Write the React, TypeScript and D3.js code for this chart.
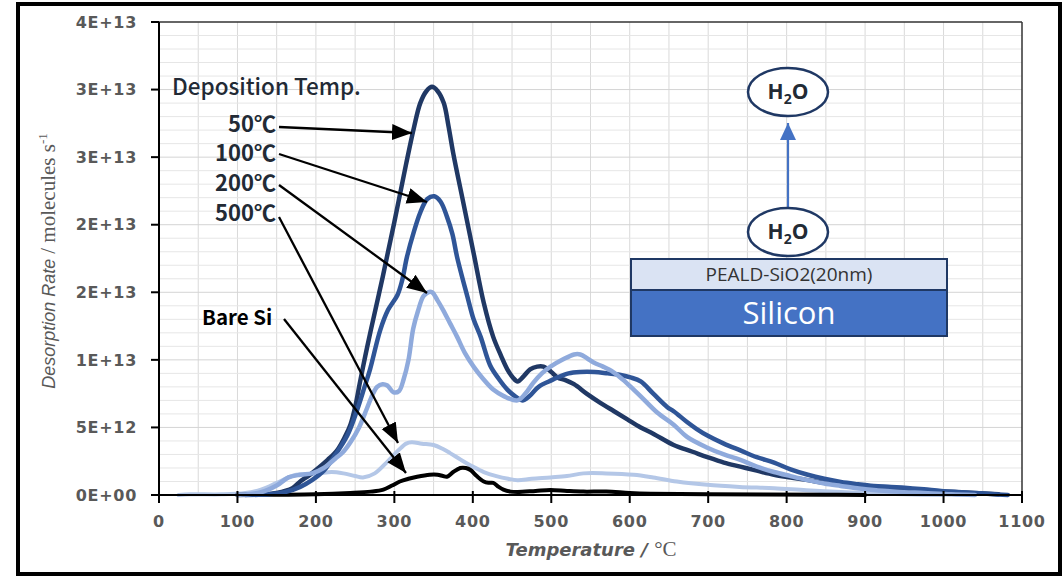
import * as d3 from "d3";

// desorption rate values are in units of 1E12 molecules/s
const series50: [number, number][] = [[100,0],[130,0.05],[150,0.15],[170,0.5],[180,1.0],[190,1.4],[200,1.85],[215,2.6],[227,3.3],[237,4.3],[244,5.2],[250,6.5],[256,8.3],[263,10.3],[270,12.2],[285,16.1],[300,20.2],[315,24.5],[325,27.2],[333,29],[341,29.9],[348,30.2],[355,29.9],[363,29],[369,27.3],[375,25.3],[388,21.6],[401,17.9],[414,14.2],[426,11.7],[436,10.3],[444,9.3],[451,8.7],[457,8.4],[465,8.8],[473,9.3],[482,9.5],[490,9.5],[500,9.1],[508,8.7],[518,8.5],[529,8.2],[545,7.5],[563,6.8],[580,6.2],[597,5.6],[614,5.0],[631,4.5],[656,3.7],[680,3.2],[699,2.8],[720,2.4],[741,2.1],[762,1.8],[784,1.5],[805,1.3],[827,1.1],[848,0.9],[869,0.74],[910,0.55],[954,0.37],[1000,0.25],[1039,0.15],[1070,0.05]];
const series100: [number, number][] = [[110,0],[140,0.05],[160,0.2],[180,0.6],[195,1.1],[210,1.8],[225,3.0],[240,4.4],[252,6.2],[262,8.0],[269,9.3],[282,12.2],[292,13.7],[304,14.8],[310,15.9],[316,17.6],[325,19.5],[333,20.9],[342,21.9],[351,22.1],[359,21.7],[367,20.6],[374,19.3],[380,17.6],[393,14.7],[401,13.0],[410,11.7],[422,9.6],[433,8.6],[444,7.8],[454,7.3],[463,7.0],[472,7.3],[480,7.8],[486,8.1],[497,8.4],[508,8.7],[522,9.0],[537,9.1],[555,9.1],[572,9.0],[587,8.9],[601,8.7],[614,8.4],[630,7.5],[648,6.5],[656,6.2],[673,5.4],[685,4.9],[699,4.4],[720,3.8],[741,3.3],[762,2.8],[784,2.4],[805,1.9],[827,1.5],[848,1.2],[869,0.96],[890,0.8],[911,0.67],[933,0.6],[954,0.52],[975,0.42],[997,0.3],[1018,0.22],[1039,0.15],[1060,0.07],[1082,0]];
const series200: [number, number][] = [[100,0],[130,0.2],[150,0.7],[165,1.3],[180,1.5],[195,1.6],[210,2.0],[225,2.7],[235,3.2],[244,3.9],[255,5.0],[265,6.4],[272,7.4],[278,8.0],[285,8.2],[291,8.1],[299,7.6],[306,7.7],[312,8.6],[318,10.0],[324,12.3],[330,13.6],[337,14.7],[343,15.0],[348,15.0],[355,14.4],[362,13.7],[371,12.7],[380,11.7],[390,10.5],[401,9.5],[413,8.6],[426,7.8],[440,7.3],[457,7.0],[467,7.5],[477,8.3],[488,9.0],[499,9.5],[514,10.0],[529,10.4],[537,10.4],[546,10.1],[554,9.8],[566,9.5],[579,9.1],[592,8.5],[605,7.8],[614,7.3],[635,6.1],[656,5.2],[673,4.3],[699,3.5],[720,3.0],[741,2.6],[762,2.1],[784,1.7],[805,1.4],[827,1.1],[848,0.85],[869,0.67],[890,0.5],[911,0.37],[940,0.25],[975,0.15],[1010,0.05],[1040,0]];
const series500: [number, number][] = [[25,0],[40,0.05],[80,0.05],[110,0.15],[130,0.4],[150,0.9],[165,1.3],[175,1.5],[190,1.5],[205,1.6],[220,1.7],[235,1.6],[250,1.4],[260,1.3],[275,1.6],[290,2.4],[305,3.3],[315,3.8],[322,3.9],[335,3.8],[350,3.7],[362,3.4],[371,3.1],[385,2.6],[400,2.1],[414,1.7],[430,1.4],[445,1.2],[457,1.1],[475,1.2],[499,1.3],[520,1.4],[541,1.6],[570,1.6],[605,1.5],[630,1.3],[660,1.0],[699,0.75],[740,0.6],[784,0.5],[825,0.35],[869,0.22],[911,0.12],[950,0.05],[1000,0]];
const seriesBare: [number, number][] = [[100,0],[150,0.02],[200,0.05],[244,0.15],[270,0.25],[286,0.4],[297,0.7],[307,1.0],[318,1.2],[329,1.35],[345,1.5],[355,1.5],[362,1.4],[367,1.35],[375,1.7],[384,2.0],[391,2.0],[397,1.85],[405,1.4],[414,1.0],[420,0.9],[426,0.9],[433,0.6],[439,0.4],[448,0.25],[457,0.22],[480,0.3],[499,0.37],[520,0.3],[541,0.25],[570,0.25],[600,0.15],[627,0.1],[700,0.05],[850,0.02],[900,0]];

const xTicks = d3.range(0, 1101, 100);
const yTickValues = [0, 5, 10, 15, 20, 25, 30, 35];
const yTickLabels = ["0E+00", "5E+12", "1E+13", "2E+13", "2E+13", "3E+13", "3E+13", "4E+13"];
const depLabels = ["50℃", "100℃", "200℃", "500℃"];

const W = 1064, H = 577;
const left = 159, right = 1022, top = 22, bottom = 495;

export default function App() {
  const x = d3.scaleLinear().domain([0, 1100]).range([left, right]);
  const y = d3.scaleLinear().domain([0, 35]).range([bottom, top]);
  const line = d3.line<[number, number]>().x(d => x(d[0])).y(d => y(d[1])).curve(d3.curveCatmullRom.alpha(0.5));

  const curves = [
    { data: series500, color: "#b4c7e7", w: 4 },
    { data: seriesBare, color: "#000000", w: 4 },
    { data: series50, color: "#203864", w: 4.5 },
    { data: series100, color: "#2f5597", w: 4.5 },
    { data: series200, color: "#8faadc", w: 4.5 },
  ];

  const tickFont = { fontFamily: "DejaVu Sans", fontWeight: 700, fontSize: 16, fill: "#595959", letterSpacing: 0.7 };
  const jp = "'Noto Sans CJK JP', 'Noto Sans', sans-serif";

  // label anchors and arrow tips for the annotation arrows
  const arrows = [
    { from: [279, 127], to: [412, 133] },
    { from: [279, 154], to: [427, 202] },
    { from: [279, 185], to: [427, 293] },
    { from: [279, 217], to: [398, 443] },
    { from: [284, 319], to: [406, 473] },
  ];

  return (
    <svg width={W} height={H} style={{ position: "absolute", left: 0, top: 0, background: "#fff" }}>
      <defs>
        <marker id="ah" markerUnits="userSpaceOnUse" markerWidth="22" markerHeight="18" refX="20" refY="8" orient="auto">
          <path d="M0,0 L20,8 L0,16 Z" fill="#000" />
        </marker>
        <marker id="ahb" markerUnits="userSpaceOnUse" markerWidth="18" markerHeight="18" refX="17" refY="8" orient="auto">
          <path d="M0,0 L17,8 L0,16 Z" fill="#4472c4" />
        </marker>
      </defs>
      <rect x={18} y={4} width={1042} height={570} fill="#fff" stroke="#000" strokeWidth={4} />

      {/* grid */}
      {d3.range(50, 1100, 50).map(t => (
        <line key={"gx" + t} x1={x(t)} x2={x(t)} y1={top} y2={bottom} stroke="#d9d9d9" strokeWidth={1} />
      ))}
      {d3.range(1, 35, 1).map(v => (
        <line key={"gy" + v} x1={left} x2={right} y1={y(v)} y2={y(v)} stroke={v % 5 === 0 ? "#d4d4d4" : "#e6e6e6"} strokeWidth={1} />
      ))}
      <line x1={left} x2={right} y1={top} y2={top} stroke="#333" strokeWidth={1.5} />
      <line x1={right} x2={right} y1={top} y2={bottom} stroke="#333" strokeWidth={1.5} />

      {/* curves */}
      {curves.map((c, i) => (
        <path key={i} d={line(c.data) || ""} fill="none" stroke={c.color} strokeWidth={c.w} strokeLinejoin="round" strokeLinecap="round" />
      ))}

      {/* axes */}
      <line x1={left} x2={left} y1={top} y2={bottom + 1} stroke="#000" strokeWidth={2} />
      <line x1={left - 1} x2={right} y1={bottom} y2={bottom} stroke="#000" strokeWidth={2} />
      {yTickValues.map((v, i) => (
        <g key={"yt" + v}>
          <line x1={left - 8} x2={left} y1={y(v)} y2={y(v)} stroke="#000" strokeWidth={2} />
          <text x={137} y={y(v)} dy="0.36em" textAnchor="end" {...tickFont}>{yTickLabels[i]}</text>
        </g>
      ))}
      {xTicks.map(t => (
        <g key={"xt" + t}>
          <line x1={x(t)} x2={x(t)} y1={bottom - 4} y2={bottom + 8} stroke="#000" strokeWidth={2} />
          <text x={x(t)} y={527} textAnchor="middle" {...tickFont}>{t}</text>
        </g>
      ))}

      {/* axis titles */}
      <text x={591} y={556} textAnchor="middle" fill="#595959" fontSize={18}>
        <tspan fontFamily="DejaVu Sans" fontWeight={700} fontStyle="italic">Temperature / </tspan>
        <tspan fontFamily="Liberation Serif" fontSize={21}>°C</tspan>
      </text>
      <text transform="translate(55,261) rotate(-90)" textAnchor="middle" fill="#595959">
        <tspan fontFamily="Liberation Sans" fontStyle="italic" fontSize={18}>Desorption Rate </tspan>
        <tspan fontFamily="Liberation Serif" fontSize={21}>/ molecules s</tspan>
        <tspan fontFamily="Liberation Serif" fontSize={13} dy={-8}>-1</tspan>
      </text>

      {/* annotations */}
      <text x={172} y={95} fontFamily={jp} fontWeight={500} fontSize={22.5} fill="#222a35">Deposition Temp.</text>
      {depLabels.map((l, i) => (
        <text key={l} x={276} y={[132, 161, 191, 221][i]} textAnchor="end" fontFamily={jp} fontWeight={700} fontSize={22} fill="#222a35">{l}</text>
      ))}
      <text x={202} y={325} fontFamily={jp} fontWeight={700} fontSize={20.5} fill="#000">Bare Si</text>
      {arrows.map((a, i) => (
        <line key={"ar" + i} x1={a.from[0]} y1={a.from[1]} x2={a.to[0]} y2={a.to[1]} stroke="#000" strokeWidth={2.3} markerEnd="url(#ah)" />
      ))}

      {/* inset diagram */}
      <line x1={788} y1={207} x2={788} y2={123} stroke="#4472c4" strokeWidth={2.2} markerEnd="url(#ahb)" />
      {[92, 232].map(cy => (
        <g key={"e" + cy}>
          <ellipse cx={788} cy={cy} rx={40} ry={24} fill="#fff" stroke="#1f3864" strokeWidth={2.5} />
          <text x={788} y={cy + 7} textAnchor="middle" fontFamily="Open Sans" fontWeight={700} fontSize={21} fill="#222a35">
            H<tspan fontSize={14} dy={5}>2</tspan><tspan dy={-5}>O</tspan>
          </text>
        </g>
      ))}
      <rect x={631} y={259} width={316} height={31} fill="#dae3f3" stroke="#1f3864" strokeWidth={2} />
      <text x={789} y={281} textAnchor="middle" fontFamily="Open Sans" fontSize={19} fill="#333">PEALD-SiO2(20nm)</text>
      <rect x={631} y={290} width={316} height={46} fill="#4472c4" stroke="#1f3864" strokeWidth={2} />
      <text x={789} y={324} textAnchor="middle" fontFamily="Open Sans" fontSize={31} fill="#fff">Silicon</text>
    </svg>
  );
}
